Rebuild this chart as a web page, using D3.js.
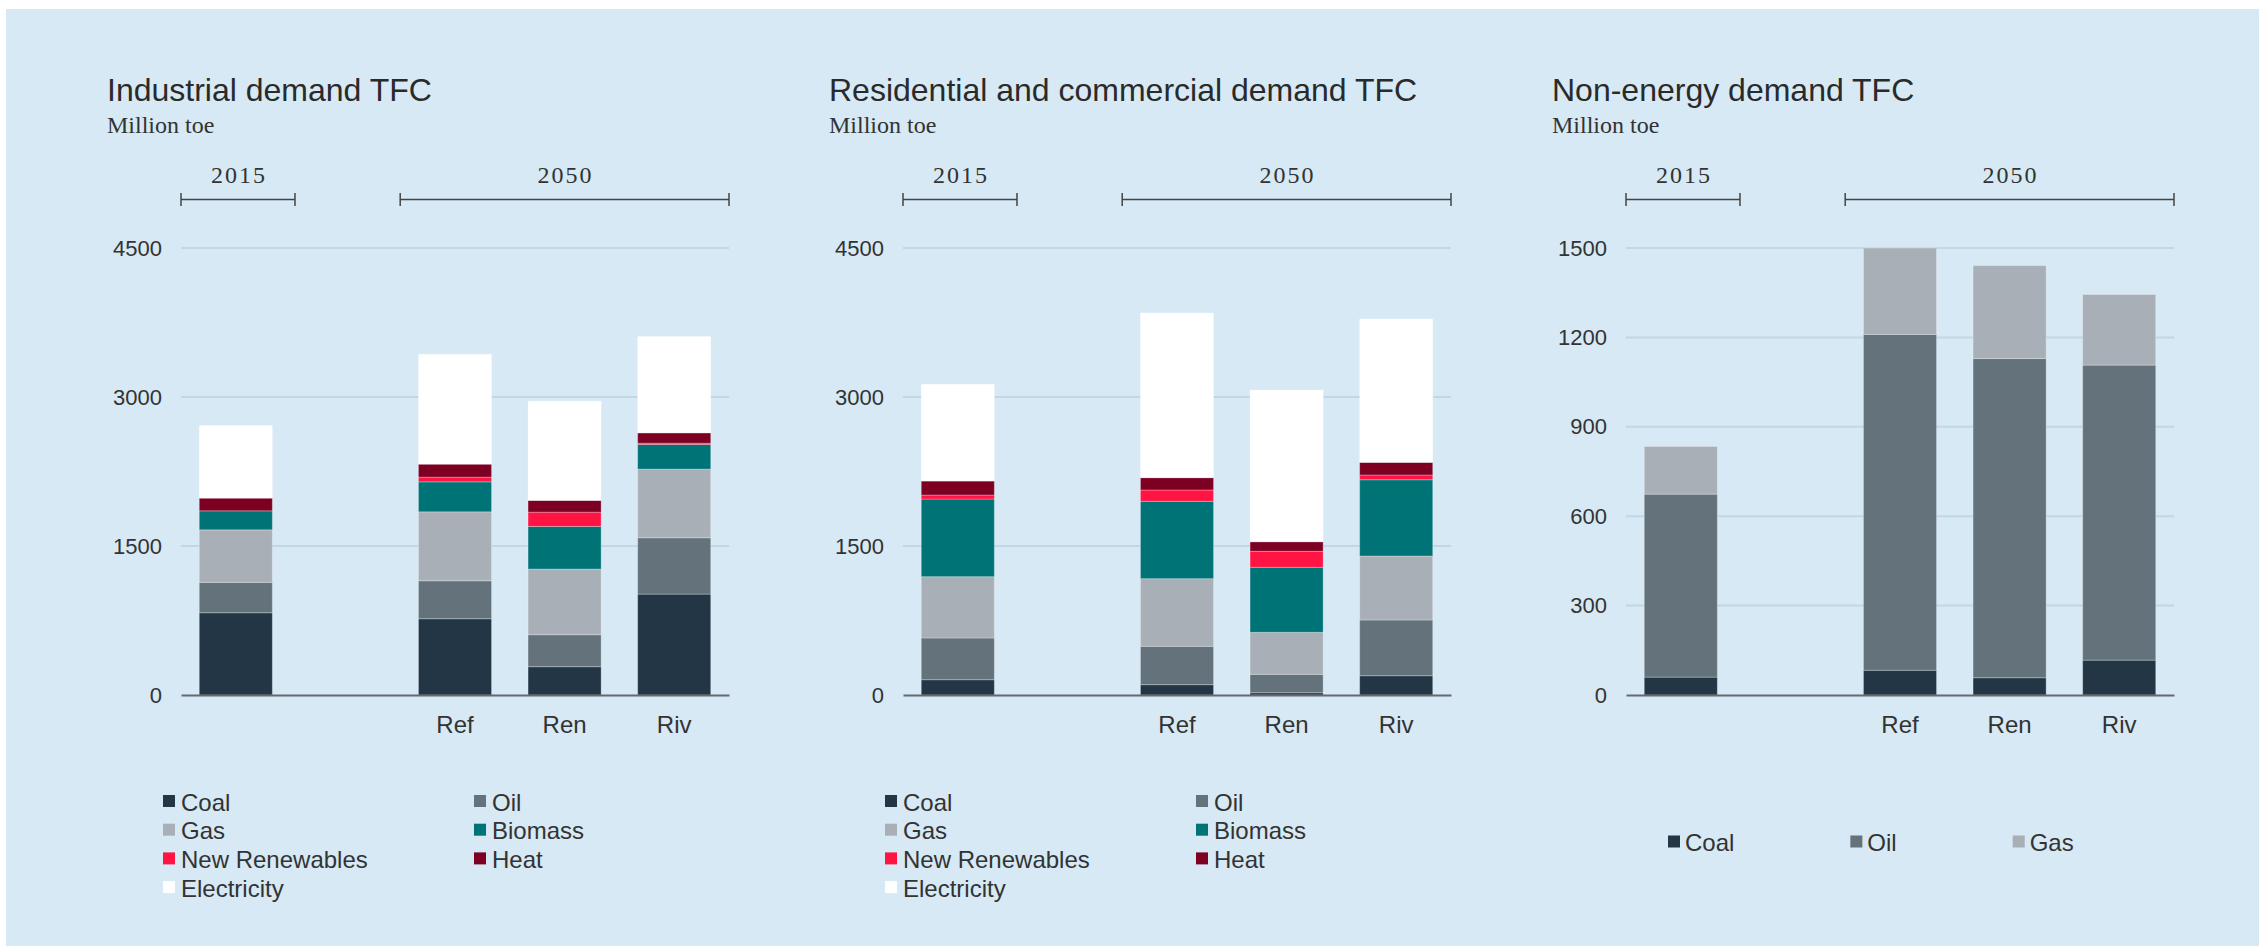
<!DOCTYPE html>
<html>
<head>
<meta charset="utf-8">
<script src="https://cdn.jsdelivr.net/npm/d3@7"></script>
<style>
  html, body { margin: 0; padding: 0; background: #fff; }
  svg { display: block; }
  .title { font-family: "Liberation Sans", Arial, sans-serif; font-size: 32px; fill: #2a2a2a; }
  .sub { font-family: "Liberation Serif", "Times New Roman", serif; font-size: 24px; fill: #333; }
  .year { font-family: "Liberation Serif", "Times New Roman", serif; font-size: 24px; fill: #333; letter-spacing: 2px; }
  .tick text { font-family: "Liberation Sans", Arial, sans-serif; fill: #333; }
  .legend text { font-family: "Liberation Sans", Arial, sans-serif; font-size: 24px; fill: #333; }
</style>
</head>
<body>
<div id="chart"></div>
<script>
const width = 2259, height = 946;

// categories on the x band scale ("gap" is the empty slot between 2015 and 2050)
const categories = ["2015", "gap", "Ref", "Ren", "Riv"];
const barKeys = ["2015", "Ref", "Ren", "Riv"];
const xLabels = ["", "", "Ref", "Ren", "Riv"];

const fuels = ["Coal", "Oil", "Gas", "Biomass", "New Renewables", "Heat", "Electricity"];
const fuelColors = ["#233646", "#64727b", "#a8afb6", "#007377", "#ff1443", "#7d0023", "#ffffff"];

// Industrial demand TFC, Million toe (2015, Ref, Ren, Riv)
const indCoal = [828, 768, 285, 1016];
const indOil = [306, 382, 322, 567];
const indGas = [529, 694, 661, 691];
const indBiomass = [191, 302, 429, 248];
const indNewRen = [0, 47, 144, 13];
const indHeat = [128, 131, 118, 104];
const indElec = [731, 1106, 999, 970];

// Residential and commercial demand TFC
const resCoal = [154, 104, 23, 194];
const resOil = [420, 386, 185, 561];
const resGas = [617, 681, 423, 644];
const resBiomass = [782, 779, 655, 768];
const resNewRen = [40, 114, 161, 48];
const resHeat = [141, 124, 96, 127];
const resElec = [974, 1658, 1527, 1443];

// Non-energy demand TFC
const neCoal = [60, 83, 58, 117];
const neOil = [614, 1127, 1071, 990];
const neGas = [160, 290, 312, 237];

const ticksBig = [0, 1500, 3000, 4500];
const ticksSmall = [0, 300, 600, 900, 1200, 1500];

const panels = [
  { title: "Industrial demand TFC", x0: 181, max: 4500, ticks: ticksBig, legendCols: 2,
    series: [indCoal, indOil, indGas, indBiomass, indNewRen, indHeat, indElec] },
  { title: "Residential and commercial demand TFC", x0: 903, max: 4500, ticks: ticksBig, legendCols: 2,
    series: [resCoal, resOil, resGas, resBiomass, resNewRen, resHeat, resElec] },
  { title: "Non-energy demand TFC", x0: 1626, max: 1500, ticks: ticksSmall, legendCols: 0,
    series: [neCoal, neOil, neGas] }
];

const plotW = 548, yTop = 248, yBase = 695;

const svg = d3.select("#chart").append("svg")
    .attr("width", width)
    .attr("height", height);

svg.append("rect")
    .attr("x", 6).attr("y", 9)
    .attr("width", width - 6).attr("height", height - 9)
    .attr("fill", "#d6e9f4");

panels.forEach(p => {
  const g = svg.append("g");
  const names = fuels.slice(0, p.series.length);

  const x = d3.scaleBand()
      .domain(categories)
      .range([p.x0, p.x0 + plotW])
      .paddingInner(1 / 3)
      .paddingOuter(1 / 6);
  const y = d3.scaleLinear().domain([0, p.max]).range([yBase, yTop]);
  const color = d3.scaleOrdinal().domain(fuels).range(fuelColors);

  // titles
  g.append("text").attr("class", "title")
      .attr("x", p.x0 - 74).attr("y", 101).text(p.title);
  g.append("text").attr("class", "sub")
      .attr("x", p.x0 - 74).attr("y", 133).text("Million toe");

  // year brackets
  const gapHalf = (x.step() - x.bandwidth()) / 2;
  const brackets = [
    { label: "2015", a: x.range()[0], b: x.range()[0] + x.step() * 1.04 },
    { label: "2050", a: x("Ref") - gapHalf, b: x.range()[1] }
  ];
  brackets.forEach(br => {
    g.append("line").attr("x1", br.a).attr("x2", br.b).attr("y1", 199.5).attr("y2", 199.5)
        .attr("stroke", "#444").attr("stroke-width", 1.5);
    [br.a, br.b].forEach(v => g.append("line")
        .attr("x1", v).attr("x2", v).attr("y1", 193).attr("y2", 206)
        .attr("stroke", "#444").attr("stroke-width", 1.5));
    g.append("text").attr("class", "year")
        .attr("x", (br.a + br.b) / 2 + 1).attr("y", 183)
        .attr("text-anchor", "middle").text(br.label);
  });

  // gridlines
  g.append("g").selectAll("line")
      .data(p.ticks.filter(t => t > 0))
      .join("line")
      .attr("x1", x.range()[0]).attr("x2", x.range()[1])
      .attr("y1", d => y(d)).attr("y2", d => y(d))
      .attr("stroke", "#c2d7e4").attr("stroke-width", 2);

  // y axis labels
  const yAxis = g.append("g")
      .attr("transform", `translate(${x.range()[0]},0)`)
      .call(d3.axisLeft(y).tickValues(p.ticks).tickFormat(d3.format("d"))
          .tickSize(0).tickPadding(19));
  yAxis.select(".domain").remove();
  yAxis.selectAll("text").style("font-size", "22px");

  // stacked bars
  const rows = barKeys.map((k, i) => {
    const r = { key: k };
    names.forEach((n, j) => r[n] = p.series[j][i]);
    return r;
  });
  const stacked = d3.stack().keys(names)(rows);

  g.append("g").selectAll("g")
      .data(stacked)
      .join("g")
      .attr("fill", d => color(d.key))
      .selectAll("rect")
      .data(d => d)
      .join("rect")
      .attr("x", d => x(d.data.key))
      .attr("width", x.bandwidth())
      .attr("y", d => y(d[1]))
      .attr("height", d => y(d[0]) - y(d[1]))
      .attr("stroke", "rgba(255,255,255,0.28)")
      .attr("stroke-width", 1);

  // x axis
  const xAxis = g.append("g")
      .attr("transform", `translate(0,${yBase})`)
      .call(d3.axisBottom(x).tickSize(0).tickSizeOuter(0).tickPadding(21)
          .tickFormat((d, i) => xLabels[i]));
  xAxis.select(".domain").attr("stroke", "#646b70").attr("stroke-width", 2);
  xAxis.selectAll("text").style("font-size", "24px");

  // legend
  const leg = g.append("g").attr("class", "legend");
  if (p.legendCols === 2) {
    names.forEach((n, i) => {
      const lx = p.x0 - 18 + (i % 2) * 311;
      const ly = 810.5 + Math.floor(i / 2) * 28.7;
      leg.append("rect").attr("x", lx).attr("y", ly - 15.5)
          .attr("width", 12).attr("height", 12).attr("fill", color(n));
      leg.append("text").attr("x", lx + 18).attr("y", ly).text(n);
    });
  } else {
    let lx = p.x0 + 42;
    names.forEach(n => {
      leg.append("rect").attr("x", lx).attr("y", 851 - 15.5)
          .attr("width", 12).attr("height", 12).attr("fill", color(n));
      const t = leg.append("text").attr("x", lx + 17).attr("y", 851).text(n);
      lx += 17 + t.node().getComputedTextLength() + 116;
    });
  }
});
</script>
</body>
</html>
